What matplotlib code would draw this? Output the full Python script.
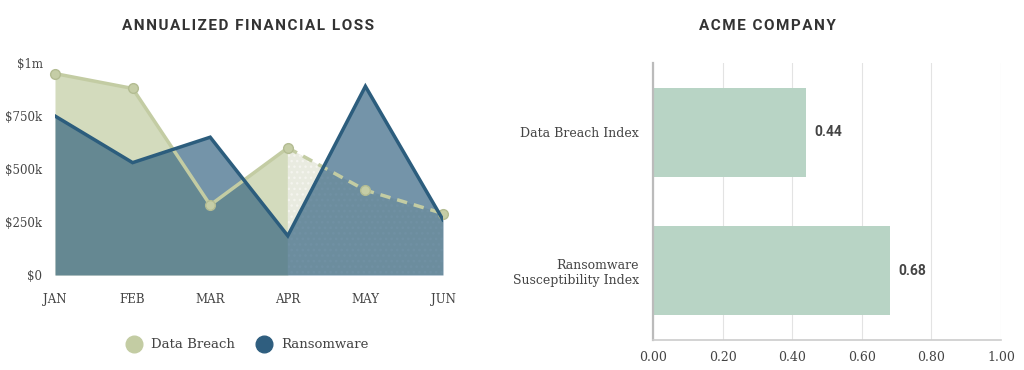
import matplotlib
matplotlib.use("Agg")
import matplotlib.pyplot as plt
from matplotlib.lines import Line2D

months = ["JAN", "FEB", "MAR", "APR", "MAY", "JUN"]
data_breach = [950, 880, 330, 600, 400, 290]   # $k
ransomware = [750, 530, 650, 185, 890, 260]    # $k
y_ticks = [0, 250, 500, 750, 1000]
y_tick_labels = ["$0", "$250k", "$500k", "$750k", "$1m"]

index_names = ["Data Breach Index", "Ransomware\nSusceptibility Index"]
index_values = [0.44, 0.68]
x_ticks = [0.0, 0.2, 0.4, 0.6, 0.8, 1.0]

GREEN_FILL = "#d3dbbd"
GREEN_LIGHT = "#e9ebe0"
GREEN_LINE = "#c3cca3"
BLUE = "#2c5d7d"
BAR = "#b8d4c5"
TXT = "#444444"
SLAB = ["DejaVu Serif"]
SANS = ["Roboto", "DejaVu Sans"]


def spaced(s):
    # letter spacing for the titles
    return "\u200a".join(s)


fig = plt.figure(figsize=(10.24, 3.7), dpi=100)

# ---- left: area chart
ax = fig.add_axes([55 / 1024, 95 / 370, 388 / 1024, 212 / 370])
x = list(range(len(months)))
split = 3  # APR, dashed part after this

ax.fill_between(x[:split + 1], data_breach[:split + 1], 0, color=GREEN_FILL, lw=0)
ax.fill_between(x[split:], data_breach[split:], 0, color=GREEN_LIGHT, lw=0,
                hatch="...", edgecolor="#f4f4ee")
ax.plot(x[:split + 1], data_breach[:split + 1], color=GREEN_LINE, lw=2.5)
ax.plot(x[split:], data_breach[split:], color=GREEN_LINE, lw=2.5, ls=(0, (3, 2)))
ax.plot(x, data_breach, "o", color="#c5cda6", mec="#b3bc92", ms=7, clip_on=False)

ax.fill_between(x, ransomware, 0, color=BLUE, alpha=0.66, lw=0)
ax.plot(x, ransomware, color=BLUE, lw=2.5, solid_joinstyle="miter")

ax.set_xlim(0, 5)
ax.set_ylim(0, 1000)
ax.set_xticks(x)
ax.set_xticklabels(months)
ax.set_yticks(y_ticks)
ax.set_yticklabels(y_tick_labels)
for s in ax.spines.values():
    s.set_visible(False)
ax.tick_params(length=0, labelsize=8.5, labelcolor=TXT)
ax.tick_params(axis="x", pad=13)
ax.tick_params(axis="y", pad=9)
for lab in ax.get_xticklabels() + ax.get_yticklabels():
    lab.set_family(SLAB)

handles = [Line2D([], [], ls="", marker="o", ms=12, color="#c3cca3"),
           Line2D([], [], ls="", marker="o", ms=12, color="#2f5e7f")]
fig.legend(handles, ["Data Breach", "Ransomware"], loc="center",
           bbox_to_anchor=(245 / 1024, 1 - 345 / 370), ncol=2, frameon=False,
           prop={"family": SLAB, "size": 9.5}, labelcolor=TXT,
           handletextpad=0.3, columnspacing=1.2)

fig.text(248 / 1024, 1 - 26 / 370, spaced("ANNUALIZED FINANCIAL LOSS"), ha="center",
         va="center", family=SANS, weight="bold", fontsize=11, color="#333333")
fig.text(767 / 1024, 1 - 26 / 370, spaced("ACME COMPANY"), ha="center",
         va="center", family=SANS, weight="bold", fontsize=11, color="#333333")

# ---- right: horizontal bars
bx = fig.add_axes([653 / 1024, 30 / 370, 348 / 1024, 277 / 370])
pos = list(range(len(index_names)))
bx.barh(pos, index_values, height=0.645, color=BAR, zorder=2)
for p, v in zip(pos, index_values):
    bx.text(v + 0.025, p, f"{v:.2f}", va="center", ha="left", family=SANS,
            weight="bold", fontsize=10, color=TXT)
bx.set_ylim(1.5, -0.5)
bx.set_xlim(0, 1.0)
bx.set_xticks(x_ticks)
bx.set_xticklabels([f"{t:.2f}" for t in x_ticks])
bx.set_yticks(pos)
bx.set_yticklabels(index_names)
bx.grid(axis="x", color="#e3e3e3", lw=0.8, zorder=0)
bx.spines["top"].set_visible(False)
bx.spines["right"].set_visible(False)
bx.spines["left"].set_color("#bbbbbb")
bx.spines["left"].set_linewidth(1.6)
bx.spines["bottom"].set_color("#cccccc")
bx.spines["bottom"].set_linewidth(1.2)
bx.tick_params(length=0, labelsize=9, labelcolor=TXT)
bx.tick_params(axis="y", pad=10)
bx.tick_params(axis="x", pad=8)
for lab in bx.get_xticklabels() + bx.get_yticklabels():
    lab.set_family(SLAB)

fig.savefig("out.png", dpi=100, facecolor="white")
